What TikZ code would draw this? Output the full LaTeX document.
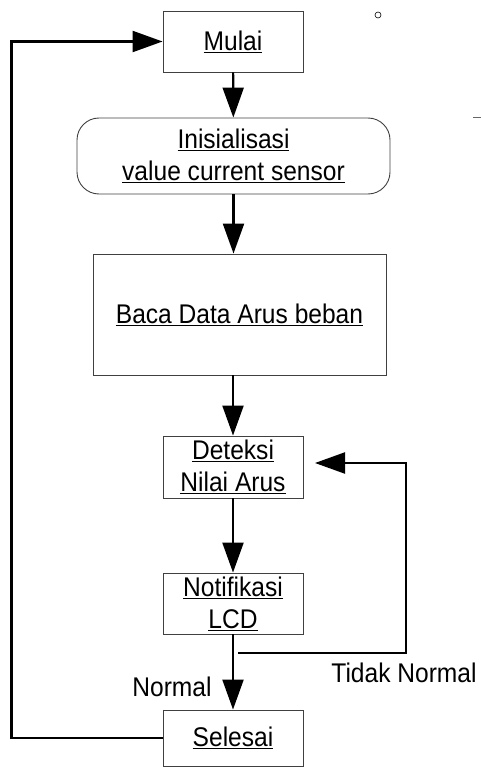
\documentclass[tikz,border=0pt]{standalone}
\usepackage{fontspec}
\setmainfont[FakeStretch=0.91]{Liberation Sans}
\usetikzlibrary{arrows.meta,positioning}
\begin{document}
\begin{tikzpicture}[x=1pt,y=-1pt,>={Triangle[length=30pt,width=21pt]},line join=miter,
	font=\fontsize{27}{32}\selectfont,
	box/.style={draw=black!75,line width=0.9pt,rectangle,align=center,inner sep=0pt},
	roundbox/.style={box,rounded corners=22pt},
	flow/.style={->,line width=2.2pt},
	lbl/.style={inner sep=0pt}]
	\useasboundingbox (0,0) rectangle (481,767);
	% kotak alur
	\node[box,minimum width=140pt,minimum height=61pt] (mulai) at (233,41.5) {\underline{Mulai}};
	\node[roundbox,minimum width=313pt,minimum height=76pt] (init) at (233.5,156) {\underline{Inisialisasi}\\\underline{value current sensor}};
	\node[box,minimum width=293pt,minimum height=121pt] (baca) at (239.5,314.5) {\underline{Baca Data Arus beban}};
	\node[box,minimum width=140pt,minimum height=62pt] (deteksi) at (233,467) {\underline{Deteksi}\\\underline{Nilai Arus}};
	\node[box,minimum width=140pt,minimum height=61pt] (notif) at (233,603.5) {\underline{Notifikasi}\\\underline{LCD}};
	\node[box,minimum width=140pt,minimum height=56pt] (selesai) at (233,738) {\underline{Selesai}};
	% label cabang
	\node[lbl] (normal) at (172,687) {Normal};
	\node[lbl] (tidak) at (404,673) {Tidak Normal};
	% titik bantu
	\coordinate (tn) at (238,653);
	\coordinate (tr) at (406,653);
	\coordinate (tip) at (315,463);
	% garis alur
	\draw[flow] (mulai) -- (init);
	\draw[flow] (init.south) -- (init.south |- baca.north);
	\draw[flow] (baca.south -| deteksi.north) -- (deteksi.north);
	\draw[flow] (deteksi) -- (notif);
	\draw[flow] (notif) -- (selesai);
	\draw[flow] (tn) -- (tr) |- (tip);
	\draw[flow] (selesai.west) -- ++(-151,0) |- (mulai.west);
	% tanda kecil
	\draw[line width=0.6pt] (378,15) circle (3);
	\draw[line width=0.6pt,black!60] (473,117) -- (481,117);
\end{tikzpicture}
\end{document}
